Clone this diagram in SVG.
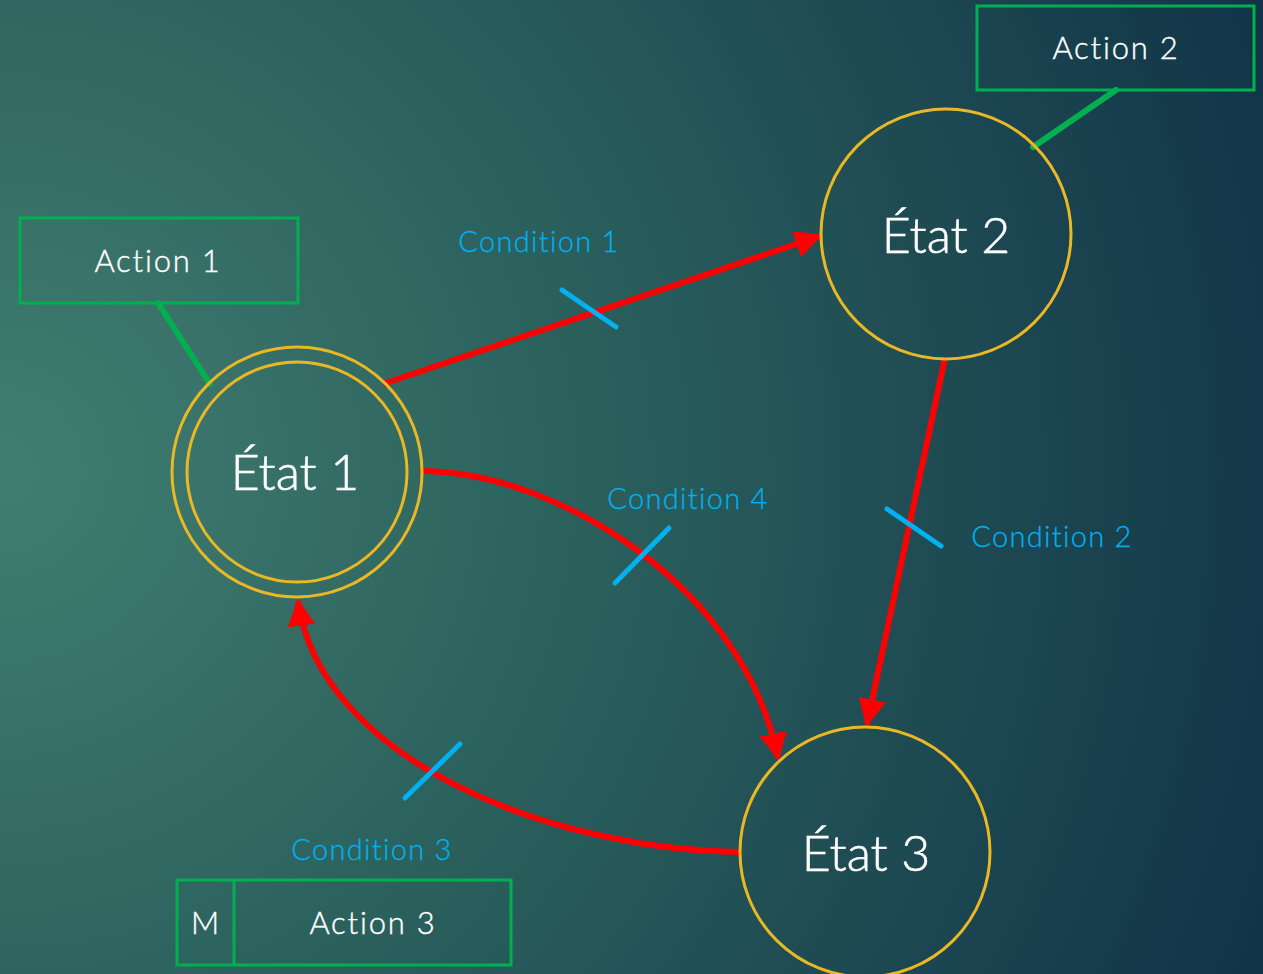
<svg xmlns="http://www.w3.org/2000/svg" width="1263" height="974" viewBox="0 0 1263 974">
<defs>
<radialGradient id="bg" cx="0" cy="470" r="1350" gradientUnits="userSpaceOnUse">
<stop offset="0" stop-color="#417e71"/>
<stop offset="0.45" stop-color="#2a5f5c"/>
<stop offset="1" stop-color="#113448"/>
</radialGradient>
<marker id="arr" viewBox="0 0 10 10" refX="9" refY="5" markerWidth="4.6" markerHeight="4.6" orient="auto" markerUnits="strokeWidth">
<path d="M0,0 L10,5 L0,10 Z" fill="#ff0000"/>
</marker>
<style>
.st{fill:none;stroke:#e9b824;stroke-width:3}
.box{fill:none;stroke:#00b050;stroke-width:3}
.lead{stroke:#00b050;stroke-width:6;stroke-linecap:round}
.edge{fill:none;stroke:#ff0000;stroke-width:6;marker-end:url(#arr)}
.tick{stroke:#00b0f0;stroke-width:5;stroke-linecap:round}
.big{font-family:"Lato","DejaVu Sans",sans-serif;font-weight:300;font-size:50px;stroke:#ffffff;stroke-width:0.6;fill:#ffffff;text-anchor:middle}
.act{font-family:"Lato","DejaVu Sans",sans-serif;font-weight:300;font-size:31px;letter-spacing:1.8px;stroke:#ffffff;stroke-width:0.4;fill:#ffffff;text-anchor:middle}
.cond{font-family:"Lato","DejaVu Sans",sans-serif;font-weight:300;font-size:29px;letter-spacing:1.3px;stroke:#00b0f0;stroke-width:0.3;fill:#00b0f0;text-anchor:middle}
</style>
</defs>
<rect width="1263" height="974" fill="url(#bg)"/>
<g id="connectors">
<path class="edge" d="M383,384 L820,236"/>
<path class="edge" d="M945,358 L867,724"/>
<path class="edge" d="M420,471 C560,471 745,590 778,758"/>
<path class="edge" d="M742,852 C550,850 320,760 298,601"/>
<line class="tick" x1="562" y1="290" x2="616" y2="327"/>
<line class="tick" x1="887" y1="509" x2="941" y2="546"/>
<line class="tick" x1="615" y1="583" x2="669" y2="528"/>
<line class="tick" x1="405" y1="798" x2="460" y2="744"/>
<line class="lead" x1="158" y1="303" x2="210" y2="384"/>
<line class="lead" x1="1116" y1="90" x2="1033" y2="147"/>
<text class="cond" x="539" y="252">Condition 1</text>
<text class="cond" x="1052" y="547">Condition 2</text>
<text class="cond" x="372" y="860">Condition 3</text>
<text class="cond" x="688" y="509">Condition 4</text>
</g>
<g id="etat1">
<circle class="st" cx="297" cy="472" r="125"/>
<circle class="st" cx="297" cy="472" r="110"/>
<text class="big" x="295" y="490">État 1</text>
</g>
<g id="etat2">
<circle class="st" cx="946" cy="234" r="125"/>
<text class="big" x="946" y="253">État 2</text>
</g>
<g id="etat3">
<circle class="st" cx="865" cy="852" r="125"/>
<text class="big" x="866" y="871">État 3</text>
</g>
<g id="action1">
<rect class="box" x="20" y="218" width="278" height="85"/>
<text class="act" x="158" y="272">Action 1</text>
</g>
<g id="action2">
<rect class="box" x="977" y="6" width="277" height="84"/>
<text class="act" x="1116" y="59">Action 2</text>
</g>
<g id="action3">
<rect class="box" x="177" y="880" width="334" height="85"/>
<line class="box" x1="234" y1="880" x2="234" y2="965"/>
<text class="act" x="206" y="934">M</text>
<text class="act" x="373" y="934">Action 3</text>
</g>
</svg>
